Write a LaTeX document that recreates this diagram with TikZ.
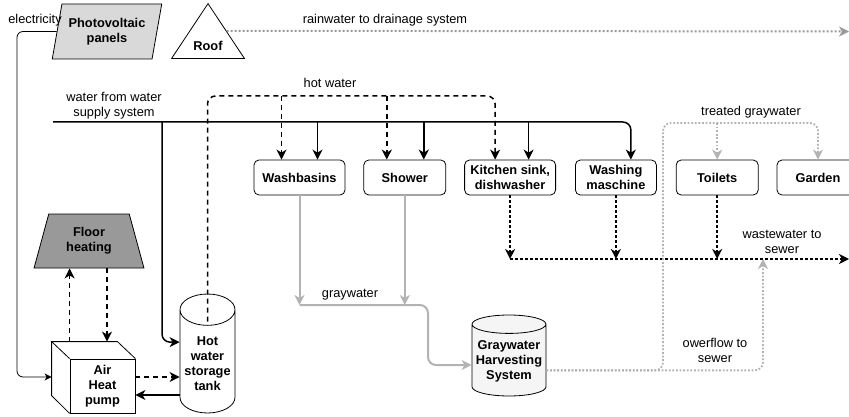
\documentclass[tikz,border=0pt]{standalone}
\usepackage{fontspec}
\setmainfont{Liberation Sans}
\usepackage{xcolor}
\usepackage{tikz}
\usetikzlibrary{shapes.geometric, arrows.meta, positioning}

\definecolor{pipegray}{HTML}{B3B3B3}
\definecolor{raingray}{HTML}{999999}
\definecolor{heatgray}{HTML}{999999}
\definecolor{panelgray}{HTML}{D9D9D9}
\definecolor{tankfill}{HTML}{F5F5F5}

\tikzset{
  txt/.style={font=\fontsize{12.8}{15.3}\selectfont, align=center, inner sep=1pt},
  part/.style={draw, line width=0.8pt, align=center, inner sep=1pt, font=\fontsize{12.8}{15.3}\selectfont\bfseries},
  room/.style={part, rounded corners=5pt, minimum width=82pt, minimum height=35pt},
  panel/.style={part, trapezium, trapezium left angle=73.8, trapezium right angle=106.2, trapezium stretches=true, minimum width=110pt, minimum height=55pt, fill=panelgray},
  roofshape/.style={part, isosceles triangle, shape border rotate=90, isosceles triangle stretches=true, minimum width=73pt, minimum height=55pt},
  heater/.style={part, trapezium, trapezium left angle=73.5, trapezium right angle=73.5, trapezium stretches=true, minimum width=110pt, minimum height=54pt, fill=heatgray},
  pump/.style={part, minimum width=65pt, minimum height=54pt},
  tank/.style={part, cylinder, shape border rotate=90, aspect=0.65, minimum width=55pt, minimum height=119pt, anchor=shape center},
  store/.style={tank, aspect=0.27, minimum width=74pt, minimum height=81pt, fill=tankfill},
  wire/.style={line width=0.8pt, -{Stealth[length=7pt,width=7pt,inset=2pt]}},
  water/.style={line width=1.5pt, -{Stealth[length=10pt,width=10pt,inset=3pt]}},
  hot/.style={water, dash pattern=on 5pt off 4pt},
  waste/.style={line width=2.5pt, dash pattern=on 2.5pt off 2.5pt, -{Stealth[length=10pt,width=10pt,inset=3pt]}},
  graypipe/.style={line width=2pt, pipegray, -{Stealth[length=10pt,width=10pt,inset=3pt]}},
  treated/.style={line width=1.8pt, pipegray, dash pattern=on 1.8pt off 1.8pt, -{Stealth[length=10pt,width=10pt,inset=3pt]}},
  rain/.style={line width=2pt, raingray, dash pattern=on 2pt off 2pt, -{Stealth[length=10pt,width=10pt,inset=3pt]}}
}

\begin{document}
\begin{tikzpicture}[x=1pt, y=-1pt]
  \useasboundingbox (0,0) rectangle (849,417);
  \clip (0,0) rectangle (849,417);

  \node[panel] (pv) at (107,31.5) {Photovoltaic\\panels};
  \node[roofshape, anchor=south] (roof) at (208,59) {Roof};
  \node[txt] (elecl) at (35,20) {electricity};
  \node[txt] (rainl) at (385,20) {rainwater to drainage system};
  \coordinate (drain) at (849,31.5);
  \draw[rain] (roof.right side) -- (drain);

  \node[room, minimum width=91pt] (wb) at (299.5,177.5) {Washbasins};
  \node[room, right=18pt of wb] (sh) {Shower};
  \node[room, minimum width=91pt, right=18pt of sh] (ks) {Kitchen sink,\\dishwasher};
  \node[room, minimum width=81pt, right=19pt of ks] (wm) {Washing\\maschine};
  \node[room, right=19pt of wm] (tl) {Toilets};
  \node[room, right=18pt of tl] (gd) {Garden};

  \node[heater] (fh) at (89,241) {Floor\\heating};
  \node[pump] (hp) at (102.5,386) {Air\\Heat\\pump};
  \coordinate (hptl) at ([shift={(-18,-17)}]hp.north west);
  \coordinate (hptr) at ([shift={(-18,-17)}]hp.north east);
  \draw[line width=0.8pt] (hp.north west) -- (hptl) -- (hptr) -- (hp.north east);
  \draw[line width=0.8pt] (hptl) -- ++(0,54) -- (hp.south west);
  \node[tank] (tank) at (207.5,353.5) {Hot\\water\\storage\\tank};
  \node[store] (ghs) at (509,355.5) {Graywater\\Harvesting\\System};

  \coordinate (supply) at (53,122);
  \coordinate (tee) at (162,122);
  \coordinate (hotturn) at (207.5,96);
  \coordinate (elec) at (17,377);
  \node[txt] (supplyl) at (114,105.5) {water from water\\supply system};
  \node[txt] (hotl) at (330,83) {hot water};

  \draw[water, rounded corners=8pt] (supply) -| ([xshift=15pt]wm.north);
  \draw[water] ([xshift=18pt]wb.north |- supply) -- ([xshift=18pt]wb.north);
  \draw[water] ([xshift=19pt]sh.north |- supply) -- ([xshift=19pt]sh.north);
  \draw[water] ([xshift=18.5pt]ks.north |- supply) -- ([xshift=18.5pt]ks.north);
  \draw[water, rounded corners=8pt] (tee) |- ([yshift=21.5pt]tank.west);

  \draw[hot, rounded corners=8pt] ([yshift=-28pt]tank.north) -- (hotturn) -| ([xshift=-15pt]ks.north);
  \draw[hot] ([xshift=-18pt]wb.north |- hotturn) -- ([xshift=-18pt]wb.north);
  \draw[hot] ([xshift=-18pt]sh.north |- hotturn) -- ([xshift=-18pt]sh.north);

  \draw[wire, rounded corners=6pt] (pv.west) -| (elec) -- (hptl |- elec);
  \draw[hot] (hp.north west |- hptl) -- (hp.north west |- fh.south);
  \draw[hot] ([xshift=18pt]fh.south) -- ([xshift=18pt]fh.south |- hptl);
  \draw[hot] ([yshift=9pt]hp.east) -- ([yshift=9pt]hp.east -| tank.west);
  \draw[water] ([yshift=-9pt]hp.east -| tank.west) -- ([yshift=-9pt]hp.east);

  \coordinate (gw) at (298,305);
  \coordinate (gwdrop) at (428,365);
  \node[txt] (gwl) at (350,295) {graywater};
  \draw[graypipe] (wb.south) -- (wb.south |- gw);
  \draw[graypipe] (sh.south) -- (sh.south |- gw);
  \draw[graypipe, rounded corners=8pt] (wb.south |- gw) -| (gwdrop) -- (gwdrop -| ghs.west);

  \coordinate (sewer) at (849,259);
  \node[txt] (wwl) at (782,242) {wastewater to\\sewer};
  \draw[waste] (ks.south) -- (ks.south |- sewer);
  \draw[waste] (wm.south) -- (wm.south |- sewer);
  \draw[waste] (tl.south) -- (tl.south |- sewer);
  \draw[waste] (ks.south |- sewer) -- (sewer);

  \coordinate (tg) at (663,123);
  \coordinate (ovf) at (763,259);
  \node[txt] (tgl) at (751,112) {treated graywater};
  \node[txt] (ovfl) at (715,350.5) {owerflow to\\sewer};
  \draw[treated, rounded corners=8pt] ([yshift=-9pt]ghs.east) -| (tg) -| (gd.north);
  \draw[treated] (tl.north |- tg) -- (tl.north);
  \draw[treated, rounded corners=8pt] ([yshift=-9pt]ghs.east) -| (ovf);
\end{tikzpicture}
\end{document}
